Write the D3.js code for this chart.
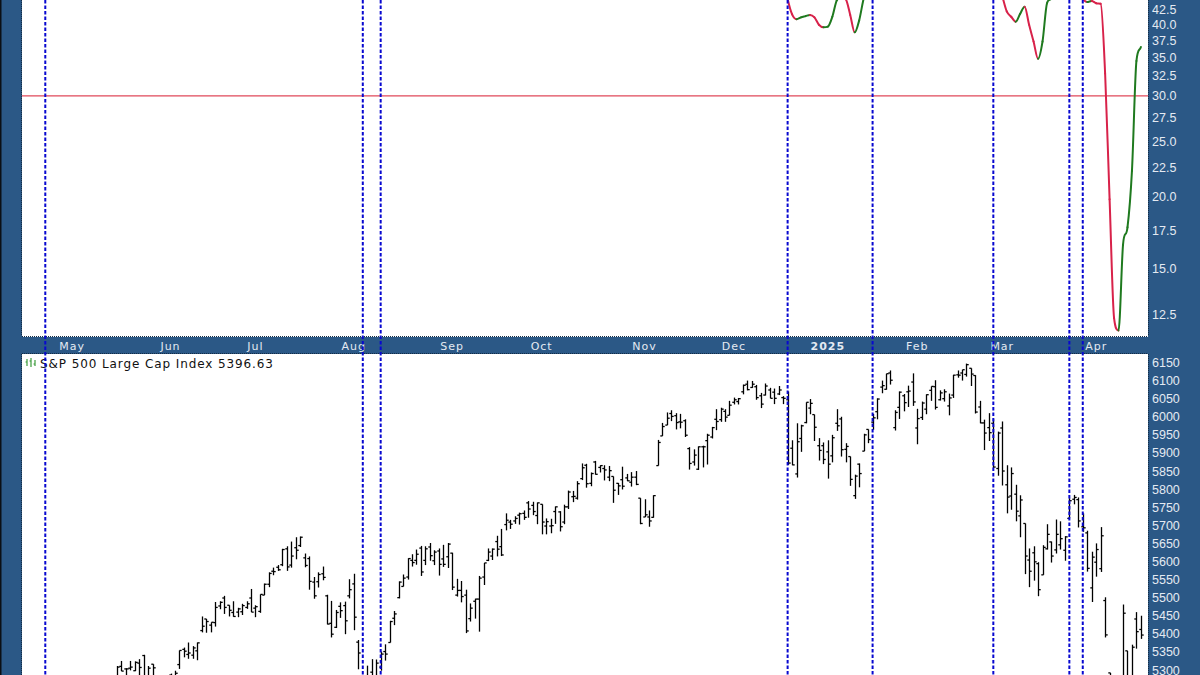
<!DOCTYPE html>
<html><head><meta charset="utf-8">
<script src="https://cdn.jsdelivr.net/npm/d3@7"></script>
<style>html,body{margin:0;padding:0;background:#2b5886;overflow:hidden}svg{display:block}</style>
</head><body>
<svg id="c" width="1200" height="675"></svg>
<script>
// ---------- DATA ----------
// S&P 500 daily bars: [date, open, high, low, close]
const spx = [
["2024-04-17",5068,5077,5007,5022],["2024-04-18",5032,5046,5001,5011],["2024-04-19",5005,5019,4953,4967],
["2024-04-22",4988,5038,4969,5010],["2024-04-23",5028,5076,5027,5070],["2024-04-24",5084,5089,5047,5072],
["2024-04-25",5019,5057,4990,5048],["2024-04-26",5084,5114,5073,5100],["2024-04-29",5115,5124,5089,5116],
["2024-04-30",5103,5110,5035,5036],
["2024-05-01",5029,5096,5013,5018],["2024-05-02",5050,5069,5011,5064],["2024-05-03",5122,5139,5086,5128],
["2024-05-06",5142,5181,5142,5181],["2024-05-07",5187,5200,5178,5187],["2024-05-08",5168,5191,5165,5188],
["2024-05-09",5190,5215,5180,5214],["2024-05-10",5225,5239,5209,5223],["2024-05-13",5234,5240,5207,5221],
["2024-05-14",5222,5250,5217,5247],["2024-05-15",5264,5311,5263,5308],["2024-05-16",5310,5325,5297,5297],
["2024-05-17",5303,5305,5284,5303],["2024-05-20",5305,5325,5299,5308],["2024-05-21",5298,5324,5297,5321],
["2024-05-22",5319,5330,5286,5307],["2024-05-23",5340,5342,5256,5268],["2024-05-24",5282,5311,5278,5305],
["2024-05-28",5316,5316,5280,5306],["2024-05-29",5278,5282,5256,5266],["2024-05-30",5259,5270,5235,5235],
["2024-05-31",5244,5280,5191,5278],
["2024-06-03",5286,5290,5234,5283],["2024-06-04",5278,5298,5257,5291],["2024-06-05",5315,5354,5303,5354],
["2024-06-06",5357,5362,5335,5352],["2024-06-07",5343,5376,5331,5347],["2024-06-10",5341,5366,5331,5361],
["2024-06-11",5353,5376,5327,5375],["2024-06-12",5409,5448,5404,5421],["2024-06-13",5441,5441,5403,5434],
["2024-06-14",5424,5432,5404,5432],["2024-06-17",5431,5488,5420,5473],["2024-06-18",5477,5490,5468,5487],
["2024-06-20",5499,5505,5455,5473],["2024-06-21",5479,5479,5448,5465],["2024-06-24",5459,5490,5447,5448],
["2024-06-25",5460,5472,5446,5469],["2024-06-26",5461,5483,5452,5478],["2024-06-27",5473,5490,5469,5483],
["2024-06-28",5499,5524,5460,5460],
["2024-07-01",5471,5479,5446,5475],["2024-07-02",5462,5509,5458,5509],["2024-07-03",5507,5539,5507,5537],
["2024-07-05",5537,5570,5529,5567],["2024-07-08",5573,5583,5562,5572],["2024-07-09",5584,5590,5574,5577],
["2024-07-10",5591,5635,5587,5633],["2024-07-11",5635,5642,5574,5585],["2024-07-12",5590,5655,5583,5615],
["2024-07-15",5638,5667,5606,5631],["2024-07-16",5644,5669,5640,5667],["2024-07-17",5610,5622,5584,5589],
["2024-07-18",5608,5614,5522,5545],["2024-07-19",5543,5557,5497,5505],["2024-07-22",5544,5570,5528,5564],
["2024-07-23",5566,5586,5548,5556],["2024-07-24",5505,5508,5426,5427],["2024-07-25",5429,5491,5390,5399],
["2024-07-26",5418,5466,5416,5459],["2024-07-29",5476,5487,5444,5464],["2024-07-30",5478,5489,5399,5436],
["2024-07-31",5505,5551,5498,5522],
["2024-08-01",5538,5566,5410,5446],["2024-08-02",5377,5383,5302,5347],["2024-08-05",5152,5250,5120,5186],
["2024-08-06",5206,5312,5193,5240],["2024-08-07",5294,5330,5195,5199],["2024-08-08",5252,5329,5250,5319],
["2024-08-09",5308,5351,5298,5344],["2024-08-12",5351,5371,5326,5344],["2024-08-13",5376,5436,5376,5434],
["2024-08-14",5443,5463,5424,5455],["2024-08-15",5500,5545,5498,5543],["2024-08-16",5531,5564,5531,5554],
["2024-08-19",5557,5609,5550,5608],["2024-08-20",5603,5620,5586,5597],["2024-08-21",5603,5633,5591,5620],
["2024-08-22",5637,5643,5560,5571],["2024-08-23",5603,5642,5590,5635],["2024-08-26",5640,5651,5602,5616],
["2024-08-27",5602,5631,5590,5626],["2024-08-28",5629,5636,5561,5592],["2024-08-29",5607,5646,5585,5592],
["2024-08-30",5613,5651,5582,5648],
["2024-09-03",5623,5624,5521,5529],["2024-09-04",5507,5552,5503,5520],["2024-09-05",5520,5546,5487,5503],
["2024-09-06",5507,5522,5402,5408],["2024-09-09",5442,5484,5434,5471],["2024-09-10",5490,5497,5442,5496],
["2024-09-11",5496,5560,5406,5554],["2024-09-12",5557,5596,5535,5596],["2024-09-13",5603,5636,5601,5626],
["2024-09-16",5615,5636,5604,5634],["2024-09-17",5655,5671,5614,5634],["2024-09-18",5641,5690,5615,5618],
["2024-09-19",5702,5733,5686,5714],["2024-09-20",5709,5715,5690,5703],["2024-09-23",5712,5725,5704,5719],
["2024-09-24",5728,5735,5702,5732],["2024-09-25",5733,5741,5715,5722],["2024-09-26",5762,5767,5721,5745],
["2024-09-27",5755,5765,5728,5738],["2024-09-30",5727,5763,5703,5762],
["2024-10-01",5758,5758,5675,5709],["2024-10-02",5698,5719,5675,5710],["2024-10-03",5698,5718,5678,5699],
["2024-10-04",5738,5752,5704,5751],["2024-10-07",5737,5739,5683,5696],["2024-10-08",5709,5757,5703,5751],
["2024-10-09",5751,5796,5745,5792],["2024-10-10",5779,5795,5764,5780],["2024-10-11",5775,5822,5771,5815],
["2024-10-14",5829,5871,5825,5859],["2024-10-15",5866,5870,5804,5815],["2024-10-16",5816,5846,5808,5843],
["2024-10-17",5875,5878,5840,5841],["2024-10-18",5860,5866,5846,5865],["2024-10-21",5857,5866,5824,5853],
["2024-10-22",5833,5864,5822,5851],["2024-10-23",5835,5835,5762,5797],["2024-10-24",5816,5817,5784,5809],
["2024-10-25",5826,5862,5799,5808],["2024-10-28",5831,5842,5822,5823],["2024-10-29",5819,5847,5807,5833],
["2024-10-30",5833,5850,5811,5813],["2024-10-31",5775,5775,5703,5705],
["2024-11-01",5723,5772,5723,5729],["2024-11-04",5723,5741,5696,5712],["2024-11-05",5722,5783,5721,5782],
["2024-11-06",5865,5936,5865,5929],["2024-11-07",5947,5983,5947,5973],["2024-11-08",5977,6012,5977,5996],
["2024-11-11",6009,6018,5988,6001],["2024-11-12",6003,6010,5965,5984],["2024-11-13",5986,6008,5968,5985],
["2024-11-14",5989,5993,5944,5949],["2024-11-15",5912,5916,5854,5871],["2024-11-18",5875,5910,5865,5894],
["2024-11-19",5855,5918,5853,5917],["2024-11-20",5917,5920,5860,5917],["2024-11-21",5934,5953,5868,5949],
["2024-11-22",5944,5972,5940,5970],["2024-11-25",5993,6021,5963,5987],["2024-11-26",5992,6025,5986,6021],
["2024-11-27",6015,6021,5986,5999],["2024-11-29",6004,6044,6004,6032],
["2024-12-02",6040,6053,6034,6047],["2024-12-03",6042,6052,6034,6050],["2024-12-04",6069,6089,6062,6087],
["2024-12-05",6090,6100,6073,6075],["2024-12-06",6081,6099,6080,6090],["2024-12-09",6083,6088,6047,6053],
["2024-12-10",6058,6066,6024,6035],["2024-12-11",6060,6092,6059,6085],["2024-12-12",6074,6080,6051,6051],
["2024-12-13",6068,6078,6035,6051],["2024-12-16",6063,6085,6060,6074],["2024-12-17",6053,6057,6035,6051],
["2024-12-18",6047,6070,5867,5872],["2024-12-19",5913,5935,5866,5867],["2024-12-20",5842,5982,5832,5931],
["2024-12-23",5940,5978,5903,5975],["2024-12-24",5984,6040,5982,6040],["2024-12-26",6024,6049,6007,6037],
["2024-12-27",6006,6006,5933,5971],["2024-12-30",5920,5941,5879,5907],["2024-12-31",5920,5929,5869,5882],
["2025-01-02",5903,5935,5829,5869],["2025-01-03",5892,5950,5874,5942],["2025-01-06",5982,6021,5961,5975],
["2025-01-07",5994,6000,5890,5909],["2025-01-08",5910,5927,5874,5918],["2025-01-10",5890,5890,5809,5827],
["2025-01-13",5782,5840,5773,5836],["2025-01-14",5869,5871,5805,5843],["2025-01-15",5905,5953,5905,5950],
["2025-01-16",5965,5965,5927,5937],["2025-01-17",5985,6008,5964,5997],["2025-01-21",6014,6051,5993,6049],
["2025-01-22",6082,6100,6065,6086],["2025-01-23",6076,6119,6075,6119],["2025-01-24",6121,6128,6089,6101],
["2025-01-27",5970,6018,5962,6012],["2025-01-28",6026,6070,5994,6068],["2025-01-29",6058,6063,6015,6039],
["2025-01-30",6069,6086,6027,6071],["2025-01-31",6096,6120,6030,6041],
["2025-02-03",5969,6022,5924,5995],["2025-02-04",5998,6042,5991,6038],["2025-02-05",6021,6062,6007,6061],
["2025-02-06",6073,6084,6044,6084],["2025-02-07",6083,6101,6020,6026],["2025-02-10",6047,6073,6045,6066],
["2025-02-11",6050,6076,6042,6069],["2025-02-12",6030,6064,6004,6052],["2025-02-13",6060,6116,6052,6115],
["2025-02-14",6116,6128,6108,6115],["2025-02-18",6121,6130,6100,6130],["2025-02-19",6117,6147,6111,6144],
["2025-02-20",6134,6134,6085,6118],["2025-02-21",6114,6115,6009,6013],["2025-02-24",6027,6044,5982,5983],
["2025-02-25",5983,5992,5908,5955],["2025-02-26",5970,6010,5933,5956],["2025-02-27",5982,5994,5858,5861],
["2025-02-28",5857,5959,5837,5955],
["2025-03-03",5969,5987,5810,5850],["2025-03-04",5812,5866,5733,5778],["2025-03-05",5781,5860,5743,5843],
["2025-03-06",5786,5812,5711,5739],["2025-03-07",5726,5783,5667,5770],["2025-03-10",5705,5705,5565,5615],
["2025-03-11",5604,5636,5529,5573],["2025-03-12",5624,5642,5547,5599],["2025-03-13",5594,5598,5504,5522],
["2025-03-14",5563,5645,5563,5639],["2025-03-17",5635,5703,5633,5675],["2025-03-18",5654,5655,5597,5615],
["2025-03-19",5632,5716,5622,5675],["2025-03-20",5646,5711,5633,5663],["2025-03-21",5631,5670,5602,5668],
["2025-03-24",5719,5775,5719,5768],["2025-03-25",5772,5784,5758,5777],["2025-03-26",5771,5777,5694,5712],
["2025-03-27",5696,5733,5682,5693],["2025-03-28",5679,5685,5572,5581],["2025-03-31",5527,5627,5488,5612],
["2025-04-01",5598,5650,5558,5633],["2025-04-02",5580,5695,5571,5671],["2025-04-03",5492,5501,5390,5397],
["2025-04-04",5292,5292,5070,5074],["2025-04-07",4953,5246,4835,5062],["2025-04-08",5193,5268,4910,4982],
["2025-04-09",4966,5481,4857,5457],["2025-04-10",5353,5353,5115,5268],["2025-04-11",5255,5370,5220,5363],
["2025-04-14",5441,5460,5359,5406],["2025-04-15",5412,5450,5386,5396.63]
];

// Upper indicator (only the stretches that dip into view): [date, value]
const indicator = [
["2024-12-17",49.0],["2024-12-18",44.3],["2024-12-19",41.6],["2024-12-20",40.8],["2024-12-23",41.1],
["2024-12-24",41.3],["2024-12-26",41.5],["2024-12-27",41.1],["2024-12-30",39.9],["2024-12-31",39.5],
["2025-01-02",39.6],["2025-01-03",41.2],["2025-01-06",44.0],["2025-01-07",44.5],["2025-01-08",44.2],
["2025-01-10",41.5],["2025-01-13",38.7],["2025-01-14",40.6],["2025-01-15",44.3],["2025-01-16",46.9],
["2025-02-27",48.0],["2025-02-28",47.1],["2025-03-03",44.7],["2025-03-04",42.1],["2025-03-05",41.2],
["2025-03-06",40.4],["2025-03-07",41.7],["2025-03-10",42.9],["2025-03-11",39.9],["2025-03-12",37.3],
["2025-03-13",34.8],["2025-03-14",37.3],["2025-03-17",43.5],["2025-03-18",44.4],["2025-03-19",47.0],
["2025-03-26",45.1],["2025-03-27",44.2],["2025-03-28",43.7],["2025-03-31",43.9],["2025-04-01",43.5],
["2025-04-02",43.4],["2025-04-03",32.8],["2025-04-04",19.8],["2025-04-07",12.3],["2025-04-08",11.7],
["2025-04-09",16.5],["2025-04-10",17.7],["2025-04-11",22.2],["2025-04-14",34.5],["2025-04-15",36.5]
];

const indTicks = [12.5,15,17.5,20,22.5,25,27.5,30,32.5,35,37.5,40,42.5];
const spxTicks = [5300,5350,5400,5450,5500,5550,5600,5650,5700,5750,5800,5850,5900,5950,6000,6050,6100,6150];
const refLevel = 30;
const monthLabels = [["2024-05-01","May"],["2024-06-03","Jun"],["2024-07-01","Jul"],["2024-08-01","Aug"],
  ["2024-09-03","Sep"],["2024-10-01","Oct"],["2024-11-01","Nov"],["2024-12-02","Dec"],["2025-01-02","2025"],
  ["2025-02-03","Feb"],["2025-03-03","Mar"],["2025-04-01","Apr"]];
const markerDates = ["2024-04-23","2024-08-05","2024-08-09","2024-12-18","2025-01-17","2025-02-27","2025-03-24","2025-03-27"];
const title = "S&P 500 Large Cap Index";

// ---------- LAYOUT ----------
const C = {bg:"#2b5886", panel:"#ffffff", axisText:"#e4eaf2", bar:"#000000",
           up:"#1f7a1f", down:"#d8224a", ref:"#e0485a", marker:"#0808d0", border:"#142c45"};
const L = 22, R = 1148;
const topP = {y0:-20, y1:337};
const botP = {y0:354, y1:700};

const svg = d3.select("#c");
const idx = new Map(spx.map((d,i)=>[d[0],i]));

const x = d3.scaleLinear().domain([0, spx.length-1]).range([27.4, 1140.9]);
const yInd = d3.scaleLog().domain([12.5, 42.5]).range([314, 9]);
const yPx = d3.scaleLinear().domain([5300, 6150]).range([670, 362.5]);

svg.append("rect").attr("width",1200).attr("height",675).attr("fill",C.bg);
svg.append("rect").attr("x",0).attr("y",0).attr("width",1.5).attr("height",675).attr("fill","#0b0f14");

svg.append("rect").attr("x",L).attr("y",topP.y0).attr("width",R-L).attr("height",topP.y1-topP.y0).attr("fill",C.panel);
svg.append("rect").attr("x",L).attr("y",botP.y0).attr("width",R-L).attr("height",botP.y1-botP.y0).attr("fill",C.panel);
const dot = (x1,y1,x2,y2)=>svg.append("line").attr("x1",x1).attr("y1",y1).attr("x2",x2).attr("y2",y2)
   .attr("stroke",C.border).attr("stroke-width",1).attr("stroke-dasharray","1,1");
dot(L,336.5,R,336.5); dot(L,353.5,R,353.5); dot(R+0.5,0,R+0.5,336); dot(R+0.5,354,R+0.5,675);
dot(L-0.5,0,L-0.5,336); dot(L-0.5,354,L-0.5,675);

const defs = svg.append("defs");
defs.append("clipPath").attr("id","clipTop").append("rect").attr("x",L).attr("y",topP.y0).attr("width",R-L).attr("height",topP.y1-topP.y0);
defs.append("clipPath").attr("id","clipBot").append("rect").attr("x",L).attr("y",botP.y0).attr("width",R-L).attr("height",botP.y1-botP.y0);

// reference line at 30
svg.append("line").attr("x1",L).attr("x2",R).attr("y1",yInd(refLevel)).attr("y2",yInd(refLevel))
  .attr("stroke",C.ref).attr("stroke-width",1.2);

// indicator: monotone cubic pieces coloured by direction
const gInd = svg.append("g").attr("clip-path","url(#clipTop)");
const pts = indicator.map(d=>({i:idx.get(d[0]), v:d[1]})).map(p=>({...p, px:x(p.i), py:yInd(p.v)}));
const consecutive = (a,b)=>a && b && b.i-a.i===1;
// slopes in pixel space
const slope = (a,b)=>(b.py-a.py)/(b.px-a.px);
pts.forEach((p,k)=>{
  const prev = consecutive(pts[k-1],p) ? pts[k-1] : null;
  const next = consecutive(p,pts[k+1]) ? pts[k+1] : null;
  if (prev && next){
    const d0 = slope(prev,p), d1 = slope(p,next);
    if (d0*d1<=0) p.m = 0;
    else { const m=(d0+d1)/2; p.m = Math.sign(m)*Math.min(Math.abs(m), 3*Math.min(Math.abs(d0),Math.abs(d1))); }
  } else if (next) p.m = slope(p,next);
  else if (prev) p.m = slope(prev,p);
  else p.m = 0;
});
for (let k=1;k<pts.length;k++){
  const a=pts[k-1], b=pts[k];
  if (!consecutive(a,b)) continue;
  const h=(b.px-a.px)/3;
  gInd.append("path")
    .attr("d",`M${a.px},${a.py}C${a.px+h},${a.py+a.m*h} ${b.px-h},${b.py-b.m*h} ${b.px},${b.py}`)
    .attr("fill","none").attr("stroke", b.v>=a.v?C.up:C.down).attr("stroke-width",2).attr("stroke-linecap","round");
}

// OHLC bars
const gBars = svg.append("g").attr("clip-path","url(#clipBot)").attr("stroke",C.bar).attr("stroke-width",1.3);
spx.forEach((d,i)=>{
  const cx = Math.round(x(i))+0.5;
  gBars.append("line").attr("x1",cx).attr("x2",cx).attr("y1",yPx(d[2])).attr("y2",yPx(d[3]));
  gBars.append("line").attr("x1",cx-2.2).attr("x2",cx).attr("y1",yPx(d[1])).attr("y2",yPx(d[1]));
  gBars.append("line").attr("x1",cx).attr("x2",cx+2.2).attr("y1",yPx(d[4])).attr("y2",yPx(d[4]));
});

// right axes
const axInd = svg.append("g").attr("transform",`translate(${R+2},0)`)
  .call(d3.axisRight(yInd).tickValues(indTicks).tickFormat(d3.format(".1f")).tickSize(0).tickPadding(2));
const axPx = svg.append("g").attr("transform",`translate(${R+2},0)`)
  .call(d3.axisRight(yPx).tickValues(spxTicks).tickFormat(d3.format("d")).tickSize(0).tickPadding(2));
[axInd,axPx].forEach(g=>{
  g.select(".domain").remove();
  g.selectAll("text").attr("fill",C.axisText).attr("font-family","'Liberation Sans',Arial,sans-serif")
   .attr("font-size",12.5);
});

// month labels in the band
svg.append("g").selectAll("text").data(monthLabels).join("text")
  .attr("x",d=>x(idx.get(d[0]))).attr("y",350)
  .attr("text-anchor","middle").attr("fill",C.axisText)
  .attr("font-family","'DejaVu Sans',Verdana,sans-serif").attr("font-size",11)
  .attr("letter-spacing",1)
  .attr("font-weight",d=>/^\d+$/.test(d[1])?"bold":"normal")
  .text(d=>d[1]);

// title with icon
const last = spx[spx.length-1][4];
const gi = svg.append("g").attr("stroke","#3a9a3a").attr("stroke-width",1.2);
[[27,359,366,362],[31,358,367,361],[35,360,366,364]].forEach(s=>{
  gi.append("line").attr("x1",s[0]).attr("x2",s[0]).attr("y1",s[1]).attr("y2",s[2]);
  gi.append("line").attr("x1",s[0]-1.5).attr("x2",s[0]).attr("y1",s[3]).attr("y2",s[3]);
});
svg.append("text").attr("x",40).attr("y",367.5)
  .attr("font-family","'DejaVu Sans',Verdana,sans-serif").attr("font-size",12)
  .attr("fill","#111").attr("textLength",233).attr("lengthAdjust","spacing")
  .text(`${title} ${last.toFixed(2)}`);

// blue dashed vertical markers
svg.append("g").selectAll("line").data(markerDates).join("line")
  .attr("x1",d=>x(idx.get(d))).attr("x2",d=>x(idx.get(d)))
  .attr("y1",0).attr("y2",675)
  .attr("stroke",C.marker).attr("stroke-width",2).attr("stroke-dasharray","3.5,2");
</script>
</body></html>
